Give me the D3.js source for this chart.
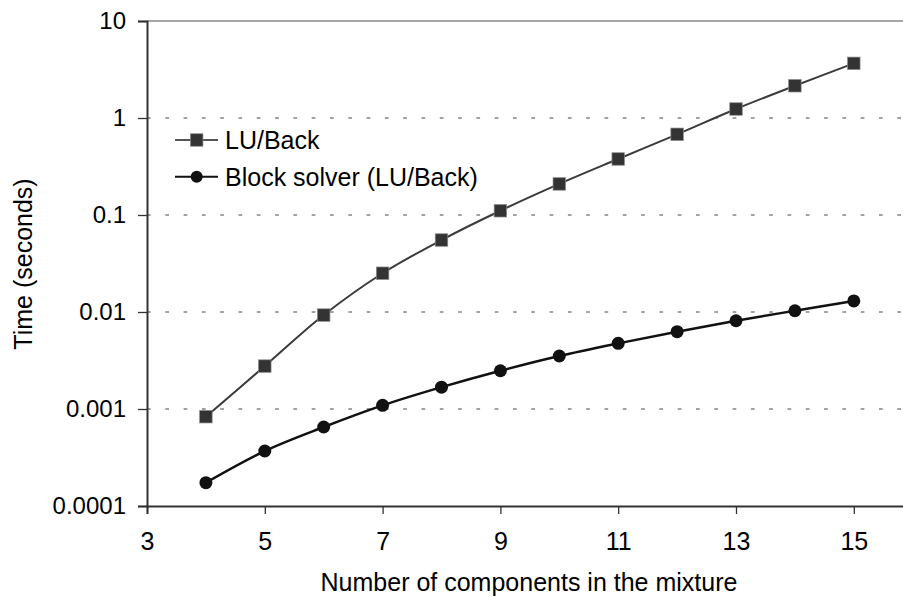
<!DOCTYPE html>
<html>
<head>
<meta charset="utf-8">
<script src="https://cdn.jsdelivr.net/npm/d3@7"></script>
<style>
  html, body { margin: 0; padding: 0; background: #fff; }
  svg { display: block; font-family: "Liberation Sans", Arial, sans-serif; }
</style>
</head>
<body>
<svg id="chart" width="903" height="597"></svg>
<script>
// Number of components in the mixture
const components = [4, 5, 6, 7, 8, 9, 10, 11, 12, 13, 14, 15];
// Solve time in seconds, full LU factorisation with back substitution
const luBack = [0.000833, 0.00277, 0.0093, 0.0251, 0.0552, 0.1106, 0.209, 0.378, 0.679, 1.238, 2.15, 3.66];
// Solve time in seconds, block solver using LU/back substitution
const blockSolver = [0.000174, 0.000369, 0.000652, 0.00109, 0.00168, 0.00248, 0.00352, 0.00475, 0.00627, 0.00813, 0.0103, 0.0130];

const xTicks = [3, 5, 7, 9, 11, 13, 15];
const yTicks = [0.0001, 0.001, 0.01, 0.1, 1, 10];
const yTickLabels = ["0.0001", "0.001", "0.01", "0.1", "1", "10"];
const seriesNames = ["LU/Back", "Block solver (LU/Back)"];

const svg = d3.select("#chart");

const x = d3.scaleLinear().domain([3, 16]).range([147, 912.7]);
const y = d3.scaleLog().domain([0.0001, 10]).range([506, 21]);

// dashed horizontal gridlines at each inner decade
svg.append("g")
  .selectAll("line")
  .data(yTicks.filter(v => v > 0.0001 && v < 10))
  .join("line")
  .attr("x1", x(3)).attr("x2", 903)
  .attr("y1", d => y(d)).attr("y2", d => y(d))
  .attr("stroke", "#444")
  .attr("stroke-width", 1)
  .attr("stroke-dasharray", "3.7,14.6");

// top border of the plot area
svg.append("line")
  .attr("x1", x(3)).attr("x2", 903)
  .attr("y1", y(10)).attr("y2", y(10))
  .attr("stroke", "#8a8a8a")
  .attr("stroke-width", 1.6);

// y axis
const yAxis = d3.axisLeft(y)
  .tickValues(yTicks)
  .tickFormat((d, i) => yTickLabels[i])
  .tickSize(9)
  .tickPadding(12);
const gy = svg.append("g").attr("transform", `translate(${x(3)},0)`).call(yAxis);
gy.select(".domain").attr("stroke", "#333").attr("stroke-width", 2);
gy.selectAll(".tick line").attr("stroke", "#333").attr("stroke-width", 1.3);
gy.selectAll(".tick text")
  .attr("font-size", 24)
  .attr("font-family", "Liberation Sans, Arial, sans-serif")
  .attr("fill", "#000");

// x axis
const xAxis = d3.axisBottom(x)
  .tickValues(xTicks)
  .tickFormat(d3.format("d"))
  .tickSize(8)
  .tickPadding(18);
const gx = svg.append("g").attr("transform", `translate(0,${y(0.0001)})`).call(xAxis);
gx.select(".domain").attr("stroke", "#333").attr("stroke-width", 2);
gx.selectAll(".tick line").attr("stroke", "#333").attr("stroke-width", 1.3);
gx.selectAll(".tick text")
  .attr("font-size", 25)
  .attr("font-family", "Liberation Sans, Arial, sans-serif")
  .attr("fill", "#000");

// axis titles
svg.append("text")
  .attr("x", 529).attr("y", 591)
  .attr("text-anchor", "middle")
  .attr("font-size", 25)
  .text("Number of components in the mixture");

svg.append("text")
  .attr("transform", "translate(32,264) rotate(-90)")
  .attr("text-anchor", "middle")
  .attr("font-size", 25)
  .text("Time (seconds)");

// series lines
const line = d3.line()
  .x(d => x(d[0]))
  .y(d => y(d[1]))
  .curve(d3.curveCatmullRom.alpha(0.5));

const luData = components.map((c, i) => [c, luBack[i]]);
const blockData = components.map((c, i) => [c, blockSolver[i]]);

svg.append("path")
  .datum(luData)
  .attr("fill", "none")
  .attr("stroke", "#3a3a3a")
  .attr("stroke-width", 2)
  .attr("d", line);

svg.append("path")
  .datum(blockData)
  .attr("fill", "none")
  .attr("stroke", "#111")
  .attr("stroke-width", 2.5)
  .attr("d", line);

// markers
const sq = 12.5;
svg.append("g")
  .selectAll("rect")
  .data(luData)
  .join("rect")
  .attr("x", d => x(d[0]) - sq / 2)
  .attr("y", d => y(d[1]) - sq / 2)
  .attr("width", sq).attr("height", sq)
  .attr("fill", "#333")
  .attr("stroke", "#8a8a8a")
  .attr("stroke-width", 0.7);

svg.append("g")
  .selectAll("circle")
  .data(blockData)
  .join("circle")
  .attr("cx", d => x(d[0]))
  .attr("cy", d => y(d[1]))
  .attr("r", 6.5)
  .attr("fill", "#111");

// legend
const legend = svg.append("g");
const legendRows = [
  { name: seriesNames[0], cy: 140, color: "#555", mark: "square" },
  { name: seriesNames[1], cy: 176.7, color: "#111", mark: "circle" }
];
legendRows.forEach(r => {
  legend.append("line")
    .attr("x1", 175).attr("x2", 218)
    .attr("y1", r.cy).attr("y2", r.cy)
    .attr("stroke", r.color)
    .attr("stroke-width", 2);
  if (r.mark === "square") {
    legend.append("rect")
      .attr("x", 196.7 - sq / 2).attr("y", r.cy - sq / 2)
      .attr("width", sq).attr("height", sq)
      .attr("fill", "#333").attr("stroke", "#8a8a8a").attr("stroke-width", 0.7);
  } else {
    legend.append("circle")
      .attr("cx", 196.7).attr("cy", r.cy).attr("r", 6)
      .attr("fill", "#111");
  }
  legend.append("text")
    .attr("x", 225).attr("y", r.cy + 9)
    .attr("font-size", 25)
    .text(r.name);
});
</script>
</body>
</html>
